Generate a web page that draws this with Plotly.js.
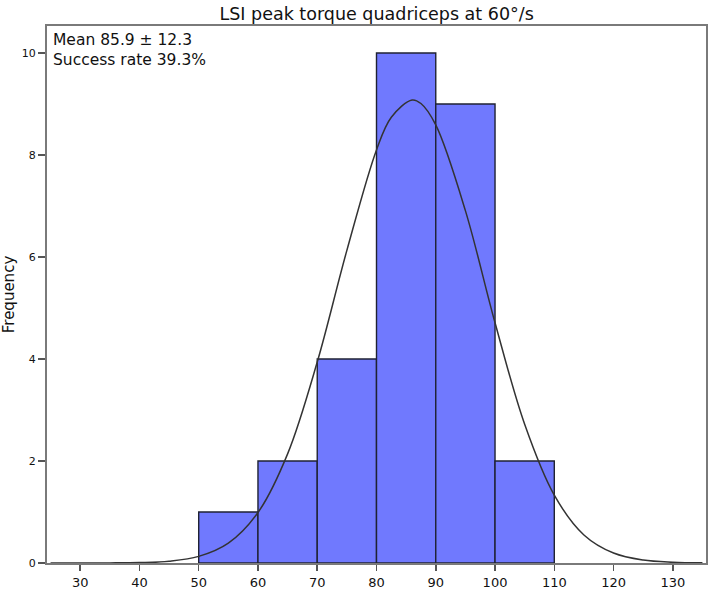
<!DOCTYPE html>
<html>
<head>
<meta charset="utf-8">
<script src="https://cdn.plot.ly/plotly-3.0.1.min.js"></script>
<style>html,body{margin:0;padding:0;background:#fff;}#chart{width:708px;height:592px;}</style>
</head>
<body>
<div id="chart"></div>
<script>
// Histogram bins (lower edges) and frequencies
const binStarts = [50, 60, 70, 80, 90, 100];
const binWidth = 10;
const frequencies = [1, 2, 4, 10, 9, 2];

// Normal curve
const curveX = [25, 30, 35, 40, 45, 50, 55, 60, 65, 70, 75, 80, 82.5, 86, 87.5, 90, 95, 100, 105, 110, 115, 120, 125, 130, 135];
const curveY = [0.0, 0.0003, 0.002, 0.009, 0.036, 0.13, 0.39, 0.99, 2.14, 3.94, 6.13, 8.10, 8.74, 9.08, 9.01, 8.59, 6.91, 4.71, 2.72, 1.33, 0.55, 0.195, 0.058, 0.015, 0.003];

const xTicks = [30, 40, 50, 60, 70, 80, 90, 100, 110, 120, 130];
const yTicks = [0, 2, 4, 6, 8, 10];

const titleText = "LSI peak torque quadriceps at 60°/s";
const statLines = ["Mean 85.9 ± 12.3", "Success rate 39.3%"];

const font = "DejaVu Sans, Verdana, sans-serif";

const bars = {
  type: 'bar',
  x: binStarts.map(b => b + binWidth / 2),
  y: frequencies,
  width: binStarts.map(() => binWidth),
  marker: {color: '#7079fe', line: {color: '#1f2233', width: 1.4}},
  hoverinfo: 'x+y'
};

const curve = {
  type: 'scatter',
  mode: 'lines',
  x: curveX,
  y: curveY,
  line: {color: '#333333', width: 1.5, shape: 'spline', smoothing: 1.0}
};

const layout = {
  width: 708,
  height: 592,
  margin: {l: 47, r: 2, t: 26, b: 29},
  paper_bgcolor: '#fff',
  plot_bgcolor: '#fff',
  showlegend: false,
  bargap: 0,
  title: {text: titleText, font: {family: font, size: 17.5, color: '#111'}, x: 0.532, xanchor: 'center', y: 0.987, yanchor: 'top'},
  xaxis: {
    range: [24.4, 135.6],
    tickvals: xTicks,
    ticktext: xTicks.map(String),
    ticks: 'outside', ticklen: 6, tickwidth: 1.5, tickcolor: '#555',
    showline: true, linecolor: '#7a7a7a', linewidth: 2, mirror: true,
    showgrid: false, zeroline: false,
    tickfont: {family: font, size: 13, color: '#111'}
  },
  yaxis: {
    range: [0, 10.53],
    tickvals: yTicks,
    ticktext: yTicks.map(String),
    ticks: 'outside', ticklen: 7, tickwidth: 1.5, tickcolor: '#555',
    showline: true, linecolor: '#7a7a7a', linewidth: 2, mirror: true,
    showgrid: false, zeroline: false,
    tickfont: {family: font, size: 11, color: '#111'},
    title: {text: 'Frequency', font: {family: font, size: 15, color: '#111'}, standoff: 8}
  },
  annotations: [{
    xref: 'paper', yref: 'paper', x: 0.006, y: 0.995, xanchor: 'left', yanchor: 'top',
    align: 'left', showarrow: false,
    text: statLines.join('<br>'),
    font: {family: font, size: 15.5, color: '#111'}
  }]
};

Plotly.newPlot('chart', [bars, curve], layout, {displayModeBar: false, staticPlot: true});
</script>
</body>
</html>
